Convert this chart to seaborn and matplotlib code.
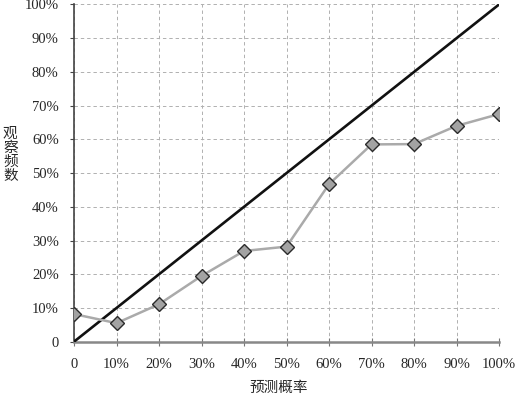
"""Calibration plot: predicted probability vs observed frequency."""
import matplotlib
matplotlib.use("Agg")
import matplotlib.pyplot as plt
import pandas as pd
import seaborn as sns
from matplotlib.ticker import FuncFormatter, MultipleLocator

# data
predicted = [0.0, 0.1, 0.2, 0.3, 0.4, 0.5, 0.6, 0.7, 0.8, 0.9, 1.0]
observed = [0.082, 0.055, 0.111, 0.195, 0.269, 0.282, 0.467, 0.585, 0.586, 0.640, 0.675]
diag = [0.0, 1.0]

x_label = "预测概率"
y_label = "观察频数"

sns.set_style("white")
plt.rcParams["font.family"] = ["Liberation Serif", "Noto Sans CJK SC"]

df = pd.DataFrame({"pred": predicted, "obs": observed})

fig = plt.figure(figsize=(5.15, 3.97), dpi=100)
ax = fig.add_axes([0.1437, 0.1393, 0.8253, 0.8494])

ax.plot(diag, diag, color="#111111", lw=1.9, zorder=3, solid_capstyle="butt")
sns.lineplot(data=df, x="pred", y="obs", ax=ax, color="#aaaaaa", lw=1.8,
             marker="D", markersize=7.5, markerfacecolor="#a3a3a3",
             markeredgecolor="#2a2a2a", markeredgewidth=1.0, zorder=4)

ax.set_xlim(0, 1.0)
ax.set_ylim(0, 1.0)
ax.xaxis.set_major_locator(MultipleLocator(0.1))
ax.yaxis.set_major_locator(MultipleLocator(0.1))
pct = FuncFormatter(lambda v, _: "0" if abs(v) < 1e-9 else f"{v * 100:.0f}%")
ax.xaxis.set_major_formatter(pct)
ax.yaxis.set_major_formatter(pct)

ax.grid(True, color="#b0b0b0", linestyle=(0, (3.5, 3)), lw=0.7)
for side in ["top", "right"]:
    ax.spines[side].set_visible(False)
ax.spines["left"].set_color("#444444")
ax.spines["left"].set_linewidth(1.2)
ax.spines["bottom"].set_color("#888888")
ax.spines["bottom"].set_linewidth(1.8)

ax.tick_params(axis="y", direction="out", length=3, width=0.8, color="#444444",
               pad=8, labelsize=10.5, left=True)
ax.tick_params(axis="x", direction="inout", length=6, width=0.8, color="#777777",
               pad=9, labelsize=10.5, bottom=True)

ax.set_xlabel("")
ax.set_ylabel("")
fig.text(0.542, 0.022, x_label, ha="center", va="center", fontsize=10.5,
         family=["Noto Sans CJK SC"])
fig.text(0.02, 0.61, "\n".join(y_label), ha="center", va="center", fontsize=10.5,
         linespacing=1.0, family=["Noto Sans CJK SC"])

fig.savefig("out.png", dpi=100)
